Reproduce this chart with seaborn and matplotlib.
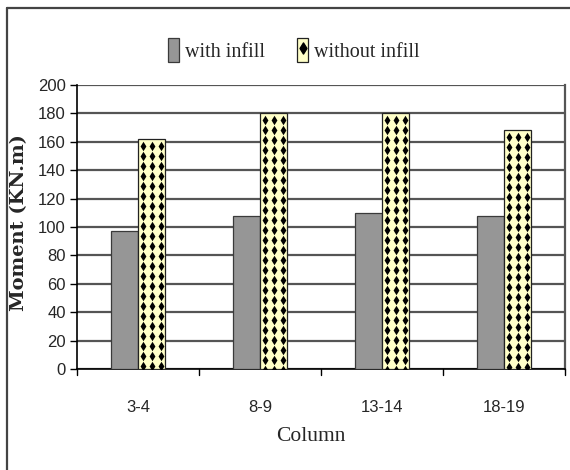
import numpy as np
import pandas as pd
import matplotlib
matplotlib.use("Agg")
import matplotlib.pyplot as plt
import seaborn as sns
from matplotlib.patches import Patch
from matplotlib.lines import Line2D
from matplotlib.path import Path

# Column moments (KN.m)
columns = ["3-4", "8-9", "13-14", "18-19"]
with_infill = [97, 108, 110, 108]
without_infill = [162, 180, 180, 168]
series = ["with infill", "without infill"]
y_ticks = list(range(0, 201, 20))

df = pd.DataFrame({
    "Column": columns * 2,
    "Moment": with_infill + without_infill,
    "Case": [series[0]] * len(columns) + [series[1]] * len(columns),
})

sns.set_theme(style="white")
serif = ["Liberation Serif", "DejaVu Serif"]
narrow = ["Liberation Sans Narrow", "Liberation Sans", "DejaVu Sans"]

fig = plt.figure(figsize=(5.7, 4.7), dpi=100)
ax = fig.add_axes([77 / 570, 1 - 369 / 470, 488 / 570, 284 / 470])

grey = "#969696"
cream = "#FFFFC8"
sns.barplot(data=df, x="Column", y="Moment", hue="Case", order=columns,
            hue_order=series, palette=[grey, cream], width=0.45, gap=0,
            saturation=1, ax=ax, legend=False, zorder=3)

for bar in ax.containers[0]:
    bar.set_edgecolor("#3a3a3a")
    bar.set_linewidth(0.9)
for bar in ax.containers[1]:
    bar.set_edgecolor("#222222")
    bar.set_linewidth(0.9)

ax.set_ylim(0, 200)
ax.set_xlim(-0.5, len(columns) - 0.5)
ax.set_yticks(y_ticks)
ax.set_yticklabels([str(v) for v in y_ticks], family=narrow, fontsize=12)
ax.set_xticks(range(len(columns)))
ax.set_xticklabels(columns, family=narrow, fontsize=12)
ax.tick_params(axis="x", length=0, pad=22)
ax.tick_params(axis="y", left=True, length=5, width=1, color="black",
               direction="out", pad=3)

# category separators on the x-axis
for b in np.arange(-0.5, len(columns), 1.0):
    ax.plot([b, b], [0, -0.02], transform=ax.get_xaxis_transform(),
            color="black", lw=1, clip_on=False, zorder=5)

ax.yaxis.grid(True, color="#555555", lw=1.6, zorder=0)
ax.set_axisbelow(True)
for s in ["left", "bottom"]:
    ax.spines[s].set_color("black")
    ax.spines[s].set_linewidth(1.2)
ax.spines["top"].set_visible(False)
ax.spines["right"].set_color("#555555")
ax.spines["right"].set_linewidth(1.6)

ax.set_xlabel("Column", family=serif, fontsize=15.5)
ax.xaxis.set_label_coords(0.48, -0.205)
ax.set_ylabel("Moment (KN.m)", family=["DejaVu Serif"], fontsize=14,
              fontweight="bold")
ax.yaxis.set_label_coords(-0.10, 0.515)

# diamond texture on the "without infill" bars
diamond = Path([(0, 1), (0.62, 0), (0, -1), (-0.62, 0), (0, 1)],
               [Path.MOVETO, Path.LINETO, Path.LINETO, Path.LINETO,
                Path.CLOSEPOLY])
fig.canvas.draw()
p0 = ax.transData.transform((0, 0))
p1 = ax.transData.transform((1, 1))
ux = p1[0] - p0[0]
uy = p1[1] - p0[1]
dx, dy = 9.0 / ux, 10.0 / uy
for bar in ax.containers[1]:
    x0, w, h = bar.get_x(), bar.get_width(), bar.get_height()
    xs = np.arange(x0 + dx * 0.55, x0 + w + dx, dx)
    ys = np.arange(h - dy * 0.7, -dy, -dy)
    gx, gy = np.meshgrid(xs, ys)
    sc = ax.scatter(gx.ravel(), gy.ravel(), marker=diamond, s=46,
                    color="black", linewidths=0, zorder=4)
    sc.set_clip_path(bar)

# legend
h1 = Patch(facecolor=grey, edgecolor="#3a3a3a", lw=0.9)
h2 = (Patch(facecolor=cream, edgecolor="#222222", lw=0.9),
      Line2D([], [], marker=diamond, ls="", color="black", markersize=8))
fig.legend([h1, h2], series, loc="center", bbox_to_anchor=(294 / 570, 1 - 50 / 470),
           ncol=2, frameon=False, handlelength=0.55, handleheight=1.4,
           handletextpad=0.3, columnspacing=1.6,
           prop={"family": serif, "size": 14.5})

# outer frame
fig.add_artist(Line2D([7 / 570, 7 / 570], [0, 1 - 8 / 470], color="#444444",
                      lw=1.6, transform=fig.transFigure))
fig.add_artist(Line2D([7 / 570, 1], [1 - 8 / 470, 1 - 8 / 470], color="#444444",
                      lw=1.6, transform=fig.transFigure))

fig.savefig("out.png", dpi=100, facecolor="white")
